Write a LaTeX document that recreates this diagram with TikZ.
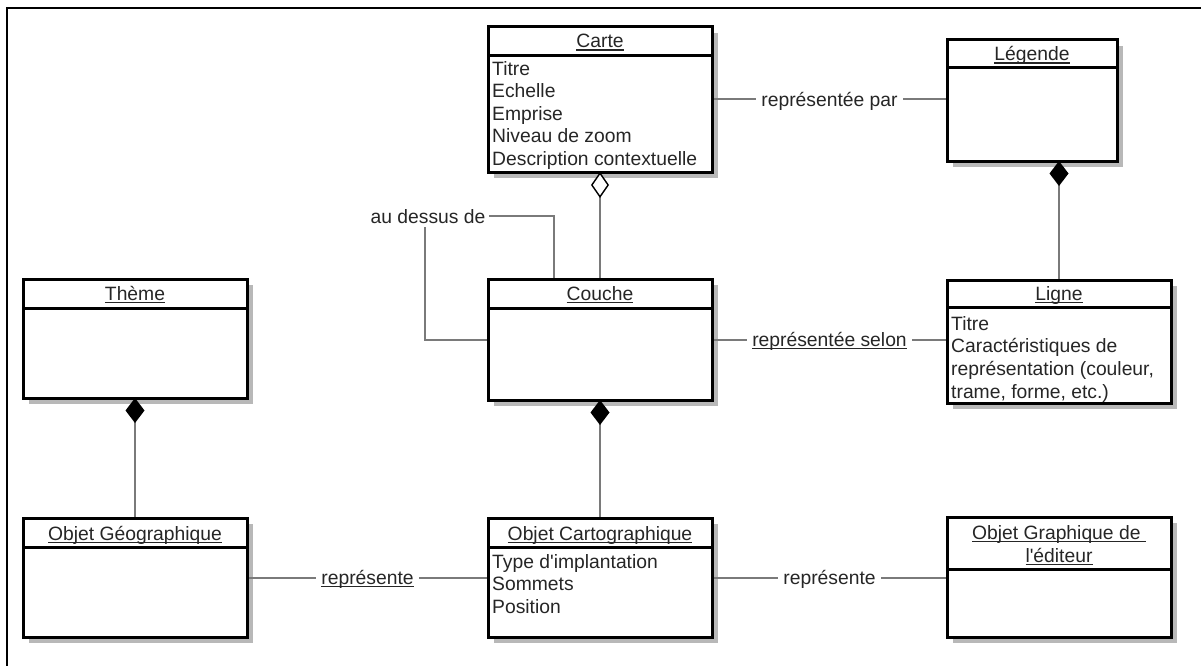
\documentclass[tikz,border=0pt]{standalone}
\usepackage{fontspec}
\setmainfont{Liberation Sans}[Ligatures=TeXOff]
\usetikzlibrary{arrows.meta}
\definecolor{txt}{HTML}{262626}
\definecolor{connc}{HTML}{7A7A7A}
\definecolor{shad}{HTML}{B8B8B8}
\newsavebox\ulbox
\newcommand\uln[1]{\sbox\ulbox{#1}\rlap{\rule[-2.6pt]{\wd\ulbox}{1.1pt}}\usebox\ulbox}
\newcommand\fstrut{\rule{0pt}{17pt}}
\pgfdeclarelayer{shadowlayer}
\pgfdeclarelayer{links}
\pgfsetlayers{shadowlayer,links,main}
\tikzset{
  classbox/.style={draw=black, line width=3pt, fill=white, inner sep=0pt, outer sep=0pt, rectangle},
  conn/.style={draw=connc, line width=2pt},
  lbl/.style={fill=white, text=txt, inner xsep=5pt, inner ysep=2pt, anchor=base, yshift=-6.7pt},
  ttl/.style={text=txt, inner sep=0pt, anchor=base},
  attr/.style={text=txt, inner sep=0pt, anchor=north west, align=left},
  opendia/.style={-{Diamond[length=26pt,width=18pt,color=black,fill=white,line width=1.4pt]}},
  filldia/.style={-{Diamond[length=25pt,width=19pt,color=black]}}
}
% name, x1, y1, x2, y2, y of header line
\newcommand\umlclass[6]{%
  \begin{pgfonlayer}{shadowlayer}
    \fill[shad] (#2+6,#3+6) rectangle (#4+6,#5+6);
  \end{pgfonlayer}
  \node[classbox, minimum width={#4-#2}, minimum height={#5-#3}] (#1) at ({(#2+#4)/2},{(#3+#5)/2}) {};
  \draw[black, line width=3pt] (#2,#6) -- (#4,#6);
}
\begin{document}
\begin{tikzpicture}[x=1pt,y=-1pt,font=\fontsize{19.3}{22.6}\selectfont]
\useasboundingbox (0,0) rectangle (1201,666);
\begin{pgfonlayer}{shadowlayer}
\fill[white] (0,0) rectangle (1201,666);
\end{pgfonlayer}
\draw[black, line width=2.5pt] (7,666) -- (7,8) -- (1201,8);

% classes
\umlclass{carte}{488}{27}{712}{172}{56}
\node[ttl] (carte-t) at (600,48) {\uln{Carte}};
\node[attr] (carte-a) at (492,58) {\fstrut Titre\\Echelle\\Emprise\\Niveau de zoom\\Description contextuelle};

\umlclass{legende}{947}{40}{1117}{161}{68}
\node[ttl] (legende-t) at (1032,61) {\uln{Légende}};

\umlclass{couche}{488}{279}{712}{400}{308}
\node[ttl] (couche-t) at (600,300.5) {\uln{Couche}};

\umlclass{ligne}{947}{280}{1171}{403}{307}
\node[ttl] (ligne-t) at (1059,300.5) {\uln{Ligne}};
\node[attr] (ligne-a) at (951,313) {\fstrut Titre\\Caractéristiques de\\représentation (couleur,\\trame, forme, etc.)};

\umlclass{theme}{23}{279}{247}{398}{308}
\node[ttl] (theme-t) at (135,300.5) {\uln{Thème}};

\umlclass{geo}{23}{518}{247}{637}{547}
\node[ttl] (geo-t) at (135,540) {\uln{Objet Géographique}};

\umlclass{carto}{488}{518}{712}{637}{547}
\node[ttl] (carto-t) at (600,540) {\uln{Objet Cartographique}};
\node[attr] (carto-a) at (492,551) {\fstrut Type d'implantation\\Sommets\\Position};

\umlclass{graph}{947}{517}{1171}{637}{569}
\node[ttl] (graph-t1) at (1059,539) {\uln{Objet Graphique de\ }};
\node[ttl] (graph-t2) at (1059,562.5) {\uln{l'éditeur}};

% connectors
\begin{pgfonlayer}{links}
\draw[conn, opendia] (couche.north) -- (carte.south);
\draw[conn, filldia] (ligne.north) -- (ligne.north |- legende.south);
\draw[conn, filldia] (carto.north) -- (couche.south);
\draw[conn, filldia] (geo.north) -- (theme.south);
\draw[conn] (carte.east) -- node[lbl] (l1) {représentée par} (carte.east -| legende.west);
\draw[conn] (couche.east) -- node[lbl] (l2) {\uln{représentée selon}} (couche.east -| ligne.west);
\draw[conn] (geo.east) -- node[lbl] (l3) {\uln{représente}} (geo.east -| carto.west);
\draw[conn] (carto.east) -- node[lbl] (l4) {représente} (carto.east -| graph.west);
\node[text=txt, inner xsep=3pt, inner ysep=4pt, anchor=base] (au) at (428,223) {au dessus de};
\draw[conn] (couche.north -| 554,0) |- (au.east);
\draw[conn] (au.south -| 425,0) |- (couche.west);
\end{pgfonlayer}
\end{tikzpicture}
\end{document}
